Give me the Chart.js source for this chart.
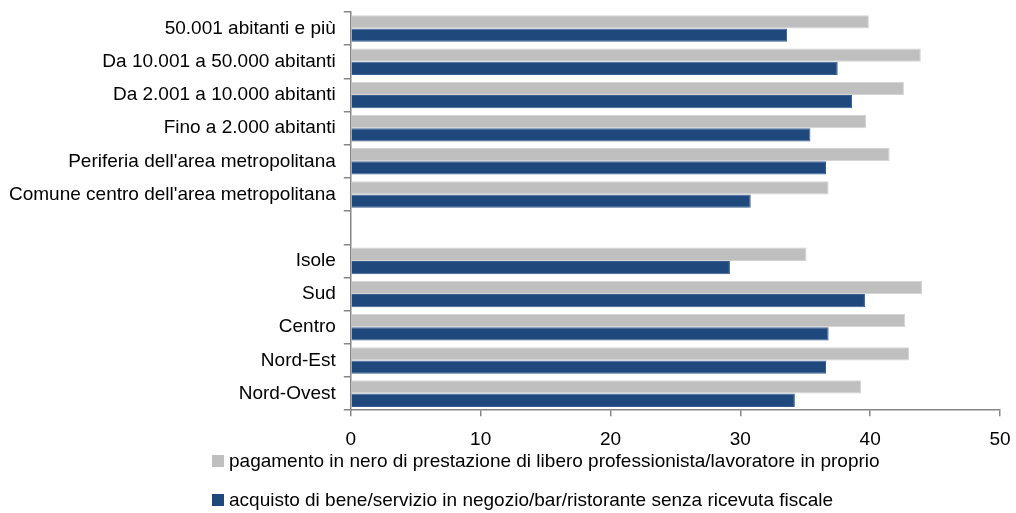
<!DOCTYPE html>
<html>
<head>
<meta charset="utf-8">
<script src="https://cdn.jsdelivr.net/npm/chart.js@4.4.0/dist/chart.umd.min.js"></script>
<style>
  html, body { margin: 0; padding: 0; background: #fff; }
</style>
</head>
<body>
<canvas id="chart" width="1016" height="513"></canvas>
<script>
// Data (percentages)
const categories = [
    '50.001 abitanti e più',
    'Da 10.001 a 50.000 abitanti',
    'Da 2.001 a 10.000 abitanti',
    'Fino a 2.000 abitanti',
    "Periferia dell'area metropolitana",
    "Comune centro dell'area metropolitana",
    '',
    'Isole',
    'Sud',
    'Centro',
    'Nord-Est',
    'Nord-Ovest'
];
const labelPagamento = 'pagamento in nero di prestazione di libero professionista/lavoratore in proprio';
const labelAcquisto = 'acquisto di bene/servizio in negozio/bar/ristorante senza ricevuta fiscale';
const pagamentoNero = [39.9, 43.9, 42.6, 39.7, 41.5, 36.8, null, 35.1, 44.0, 42.7, 43.0, 39.3];
const acquistoSenzaRicevuta = [33.6, 37.5, 38.6, 35.4, 36.6, 30.8, null, 29.2, 39.6, 36.8, 36.6, 34.2];
const xMin = 0, xMax = 50, xStep = 10;

const FONT_FAMILY = "'Liberation Sans', Arial, sans-serif";
const FONT_SIZE = 19;
const AXIS_COLOR = '#868686';

// Legend stacked in two rows under the axis, left aligned
const bottomLegend = {
    id: 'bottomLegend',
    afterDraw(chart) {
        const ctx = chart.ctx;
        const rows = [461, 500];
        const x = 212;
        ctx.save();
        ctx.font = FONT_SIZE + 'px ' + FONT_FAMILY;
        ctx.textBaseline = 'middle';
        ctx.textAlign = 'left';
        chart.data.datasets.forEach((ds, i) => {
            ctx.fillStyle = ds.backgroundColor;
            ctx.fillRect(x, rows[i] - 6, 12, 12);
            ctx.fillStyle = '#000';
            ctx.fillText(ds.label, x + 17, rows[i] + 1);
        });
        ctx.restore();
    }
};

const ctx = document.getElementById('chart').getContext('2d');
const chart = new Chart(ctx, {
    type: 'bar',
    data: {
        labels: categories,
        datasets: [
            { label: labelPagamento, data: pagamentoNero, backgroundColor: '#bfbfbf', borderColor: '#d4d4d4', borderWidth: 1 },
            { label: labelAcquisto, data: acquistoSenzaRicevuta, backgroundColor: '#1f497d', borderColor: '#3a5f8f', borderWidth: 1 }
        ]
    },
    options: {
        indexAxis: 'y',
        responsive: false,
        animation: false,
        categoryPercentage: 0.8,
        barPercentage: 1.0,
        layout: { padding: { left: 1, right: 16, top: 12, bottom: 50 } },
        scales: {
            x: {
                min: xMin,
                max: xMax,
                // let the last label hang into the right margin
                afterFit(scale) { scale.paddingRight = 0; },
                ticks: {
                    stepSize: xStep,
                    color: '#000',
                    padding: 12,
                    font: { family: FONT_FAMILY, size: FONT_SIZE }
                },
                grid: { drawOnChartArea: false, tickLength: 6, color: AXIS_COLOR, lineWidth: 1.5 },
                border: { color: AXIS_COLOR, width: 1.5 }
            },
            y: {
                // no extra room for half labels above / below the axis
                afterFit(scale) { scale.paddingTop = 0; scale.paddingBottom = 0; },
                ticks: {
                    color: '#000',
                    padding: 8,
                    font: { family: FONT_FAMILY, size: FONT_SIZE }
                },
                grid: { drawOnChartArea: false, tickLength: 7, color: AXIS_COLOR, lineWidth: 1.5 },
                border: { color: AXIS_COLOR, width: 1.5 }
            }
        },
        plugins: {
            legend: { display: false },
            tooltip: { enabled: false }
        }
    },
    plugins: [bottomLegend]
});
</script>
</body>
</html>
